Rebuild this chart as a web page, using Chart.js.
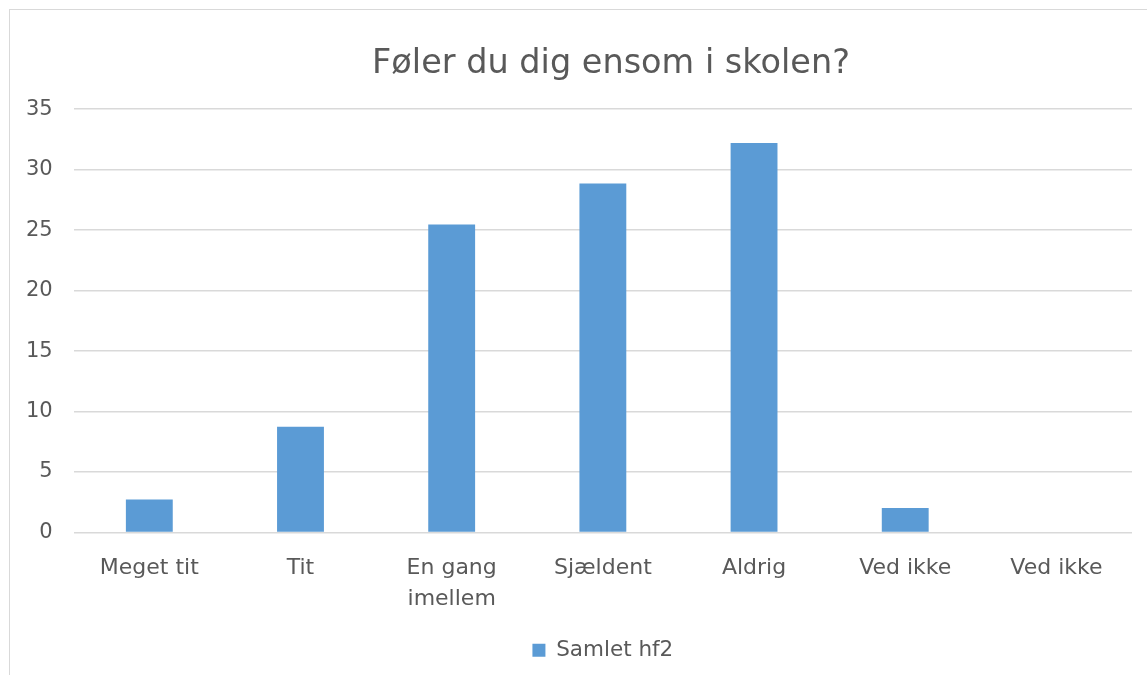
<!DOCTYPE html>
<html>
<head>
<meta charset="utf-8">
<script src="https://cdn.jsdelivr.net/npm/chart.js@4.4.1/dist/chart.umd.min.js"></script>
<style>
  body { margin: 0; background: #fff; overflow: hidden; }
  #frame { position: absolute; left: 9px; top: 9px; width: 1300px; height: 800px; border: 1px solid #d9d9d9; }
  #wrap { position: absolute; left: 0; top: 0; width: 1222px; height: 675px; }
</style>
</head>
<body>
<div id="frame"></div>
<div id="wrap"><canvas id="lonelyChart"></canvas></div>
<script>
// survey answers
var categories = ['Meget tit', 'Tit', ['En gang', 'imellem'], 'Sjældent', 'Aldrig', 'Ved ikke', 'Ved ikke'];
var samletHf2 = [2.72, 8.75, 25.47, 28.85, 32.2, 2.02, 0];
var yTicks = [0, 5, 10, 15, 20, 25, 30, 35];

var textColor = '#595959';
var fontFamily = '"DejaVu Sans", sans-serif';

var ctx = document.getElementById('lonelyChart').getContext('2d');
var myChart = new Chart(ctx, {
    type: 'bar',
    data: {
        labels: categories,
        datasets: [{
            label: 'Samlet hf2',
            data: samletHf2,
            backgroundColor: '#5b9bd5',
            categoryPercentage: 1,
            barPercentage: 0.31
        }]
    },
    options: {
        responsive: true,
        maintainAspectRatio: false,
        animation: false,
        layout: {
            padding: { left: 5, right: 5, top: 0, bottom: 4 }
        },
        plugins: {
            title: {
                display: true,
                text: 'Føler du dig ensom i skolen?',
                color: textColor,
                font: { family: fontFamily, size: 33.5, weight: 'normal' },
                padding: { top: 44, bottom: 25 }
            },
            legend: {
                position: 'bottom',
                fullSize: false,
                labels: {
                    color: textColor,
                    font: { family: fontFamily, size: 21.5 },
                    boxWidth: 13,
                    boxHeight: 13,
                    padding: 12.5
                }
            },
            tooltip: { enabled: false }
        },
        scales: {
            x: {
                grid: { display: false },
                border: { display: false },
                ticks: {
                    color: textColor,
                    font: { family: fontFamily, size: 22, lineHeight: 1.42 },
                    padding: 12,
                    maxRotation: 0,
                    autoSkip: false
                }
            },
            y: {
                min: 0,
                max: 35,
                afterBuildTicks: function(axis) {
                    axis.ticks = yTicks.map(function(v) { return { value: v }; });
                },
                grid: { color: '#d9d9d9', lineWidth: 1.5, drawTicks: false },
                border: { display: false },
                ticks: {
                    color: textColor,
                    font: { family: fontFamily, size: 21 },
                    padding: 21
                }
            },
            // empty space on the right side of the frame
            yRight: {
                position: 'right',
                grid: { display: false },
                border: { display: false },
                ticks: { display: false },
                afterFit: function(axis) { axis.width = 85; }
            }
        }
    }
});
</script>
</body>
</html>
